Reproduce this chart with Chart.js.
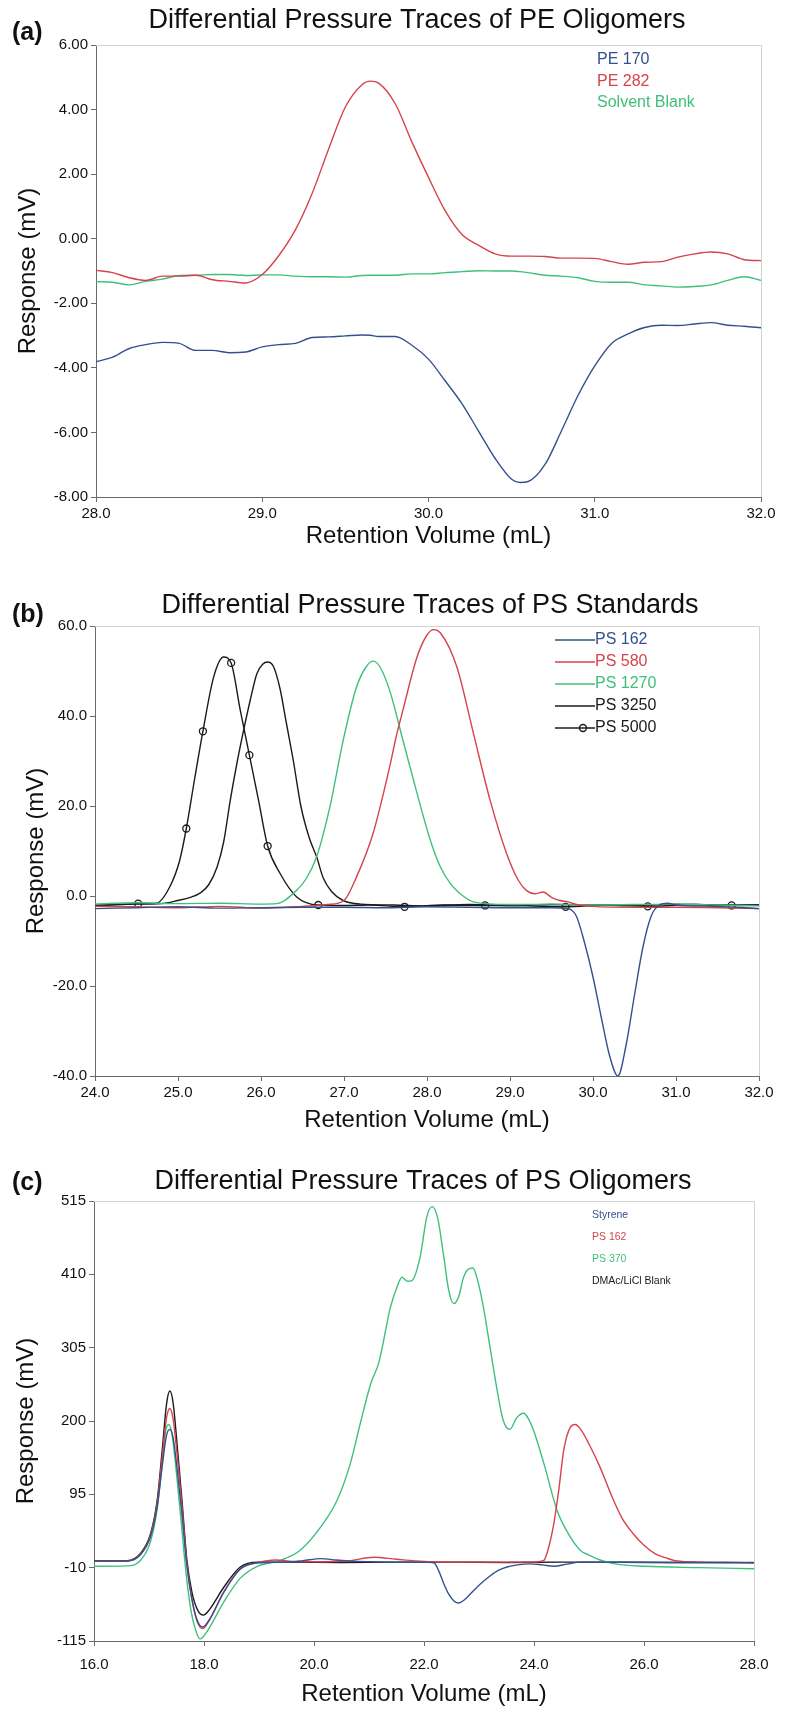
<!DOCTYPE html>
<html>
<head>
<meta charset="utf-8">
<script src="https://cdn.jsdelivr.net/npm/chart.js@4.4.1/dist/chart.umd.min.js"></script>
<style>
body { margin: 0; background: #fff; }
canvas { display: block; }
</style>
</head>
<body>
<canvas id="chartA" width="793" height="560"></canvas>
<canvas id="chartB" width="793" height="585"></canvas>
<canvas id="chartC" width="793" height="567"></canvas>
<script>
// ---- panel (a): PE oligomers ----
const peX = [28.0, 28.1, 28.2, 28.3, 28.4, 28.5, 28.6, 28.7, 28.8, 28.9,
             29.0, 29.1, 29.2, 29.3, 29.4, 29.5, 29.6, 29.65, 29.7, 29.8, 29.9,
             30.0, 30.1, 30.2, 30.3, 30.4, 30.5, 30.55, 30.6, 30.7, 30.8, 30.9,
             31.0, 31.1, 31.2, 31.3, 31.4, 31.5, 31.6, 31.7, 31.8, 31.9, 32.0];
const pe170 = [-3.81, -3.67, -3.40, -3.28, -3.21, -3.24, -3.46, -3.46, -3.53, -3.51,
               -3.35, -3.28, -3.24, -3.06, -3.04, -3.01, -2.98, -2.99, -3.03, -3.03, -3.30,
               -3.73, -4.40, -5.10, -5.95, -6.80, -7.45, -7.55, -7.52, -7.00, -5.95, -4.85,
               -3.94, -3.25, -2.95, -2.75, -2.68, -2.69, -2.64, -2.60, -2.68, -2.71, -2.76];
const pe282 = [-0.98, -1.05, -1.21, -1.29, -1.16, -1.16, -1.13, -1.27, -1.32, -1.37,
               -1.11, -0.52, 0.28, 1.40, 2.79, 4.08, 4.77, 4.88, 4.82, 4.18, 3.00,
               1.90, 0.87, 0.14, -0.20, -0.47, -0.54, -0.54, -0.54, -0.55, -0.60, -0.60,
               -0.61, -0.71, -0.79, -0.73, -0.71, -0.57, -0.47, -0.41, -0.47, -0.65, -0.68];
const peBlank = [-1.33, -1.35, -1.43, -1.32, -1.25, -1.14, -1.13, -1.11, -1.11, -1.14,
                 -1.12, -1.12, -1.16, -1.18, -1.18, -1.19, -1.14, -1.13, -1.13, -1.13, -1.09,
                 -1.09, -1.05, -1.02, -0.99, -1.00, -1.00, -1.02, -1.05, -1.13, -1.16, -1.21,
                 -1.32, -1.35, -1.35, -1.43, -1.46, -1.50, -1.48, -1.43, -1.29, -1.18, -1.29];

// ---- panel (b): PS standards ----
const ps162X = [24.0, 24.5, 25.0, 25.5, 26.0, 26.5, 27.0, 27.5, 28.0, 28.5, 29.0, 29.5, 29.7,
                29.8, 29.9, 30.0, 30.1, 30.2, 30.3, 30.4, 30.5, 30.6, 30.7, 30.8, 30.9, 31.0, 31.5, 32.0];
const ps162Y = [-2.8, -2.6, -2.4, -2.7, -2.6, -2.5, -2.5, -2.6, -2.4, -2.5, -2.6, -2.6, -2.8,
                -4.5, -10.5, -18, -27, -35.5, -40, -33, -22, -11.5, -4.5, -2.0, -1.6, -2.0, -2.3, -2.8];
const ps580X = [24.0, 24.5, 25.0, 25.5, 26.0, 26.5, 26.8, 27.0, 27.15, 27.35, 27.55, 27.63, 27.71,
                27.88, 28.0, 28.08, 28.16, 28.36, 28.56, 28.76, 28.96, 29.1, 29.2, 29.3, 29.4, 29.5,
                29.6, 29.7, 29.8, 30.0, 30.5, 31.0, 31.5, 32.0];
const ps580Y = [-2.3, -2.4, -2.6, -2.3, -2.7, -2.3, -1.9, -1.0, 4.2, 13.9, 28.7, 35.5, 41.3,
                53.1, 58.0, 59.2, 58.5, 50.9, 36.1, 21.3, 9.4, 3.5, 1.2, 0.5, 0.9, -0.3,
                -1.0, -1.3, -1.9, -2.3, -2.5, -2.5, -2.6, -2.8];
const ps1270X = [24.0, 24.5, 25.0, 25.5, 26.0, 26.19, 26.43, 26.55, 26.67, 26.83, 26.99, 27.15,
                 27.27, 27.35, 27.43, 27.55, 27.71, 27.88, 28.04, 28.16, 28.28, 28.4, 28.56,
                 29.0, 29.5, 30.0, 30.5, 31.0, 31.5, 32.0];
const ps1270Y = [-1.8, -1.5, -1.7, -1.6, -1.8, -1.7, 1.3, 4.0, 8.7, 19.8, 34.6, 46.4,
                 51.0, 52.2, 51.0, 45.7, 34.6, 22.8, 12.4, 6.5, 2.8, 0.5, -1.3,
                 -1.9, -1.8, -2.0, -1.9, -1.8, -2.0, -2.2];
const ps3250X = [24.0, 24.5, 24.8, 25.0, 25.15, 25.27, 25.37, 25.47, 25.55, 25.63, 25.71, 25.79,
                 25.87, 25.95, 26.02, 26.08, 26.15, 26.23, 26.3, 26.39, 26.48, 26.58, 26.67,
                 26.75, 26.85, 26.99, 27.2, 27.6, 28.0, 28.5, 29.0, 29.5, 30.0, 30.5, 31.0, 31.5, 32.0];
const ps3250Y = [-2.0, -1.8, -1.7, -1.0, -0.3, 0.7, 2.5, 6.4, 12.0, 21.3, 29.5, 36.8,
                 43.5, 49.4, 51.5, 52.0, 51.0, 46.0, 39.0, 30.0, 20.0, 13.0, 8.7,
                 4.0, 1.0, -1.0, -1.8, -2.0, -2.2, -1.9, -2.1, -1.9, -2.0, -2.1, -1.8, -2.0, -2.0];
const ps5000X = [24.0, 24.3, 24.52, 24.74, 24.9, 25.02, 25.1, 25.2, 25.3, 25.43, 25.55, 25.64,
                 25.75, 25.86, 25.97, 26.08, 26.23, 26.43, 26.69, 27.0, 27.3, 27.73, 28.2, 28.7,
                 29.2, 29.67, 30.2, 30.66, 31.2, 31.67, 32.0];
const ps5000Y = [-2.2, -1.9, -1.7, -1.6, 2.0, 7.9, 15.0, 26.0, 36.6, 48.7, 53.1, 51.8,
                 41.3, 31.3, 21.3, 11.1, 5.0, -0.2, -2.0, -2.1, -2.0, -2.4, -2.0, -2.1,
                 -2.2, -2.4, -2.0, -2.3, -1.9, -2.1, -2.0];
const ps5000Marks = [24.52, 25.1, 25.3, 25.64, 25.86, 26.08, 26.69, 27.73, 28.7, 29.67, 30.66, 31.67];

// ---- panel (c): PS oligomers ----
const styX = [16.0, 16.6, 16.84, 17.03, 17.15, 17.24, 17.32, 17.38, 17.44, 17.52, 17.6, 17.69,
              17.78, 17.88, 17.98, 18.1, 18.36, 18.66, 18.97, 19.5, 19.8, 20.12, 20.4, 20.8,
              21.5, 22.0, 22.18, 22.27, 22.36, 22.45, 22.55, 22.63, 22.72, 22.85, 23.03, 23.2,
              23.35, 23.51, 23.7, 23.93, 24.15, 24.36, 24.6, 24.84, 25.2, 26.0, 27.0, 28.0];
const styY = [-0.5, -0.5, 8, 35, 78, 135, 180, 188, 175, 125, 66, -8,
              -55, -86, -95, -84, -45, -12, -3, -2, 0, 3, 1, -1,
              -2, -2, -3, -15, -33, -48, -58, -60.5, -57, -47, -33, -22,
              -14, -9, -6, -4.5, -6, -8, -5, -2, -2, -2.5, -2.5, -2.5];
const o162X = [16.0, 16.6, 16.84, 17.03, 17.15, 17.24, 17.32, 17.38, 17.44, 17.52, 17.6, 17.69,
               17.78, 17.88, 17.98, 18.1, 18.36, 18.66, 18.97, 19.3, 19.6, 20.0, 20.6, 21.09,
               21.5, 22.0, 23.0, 24.0, 24.1, 24.18, 24.27, 24.36, 24.45, 24.54, 24.66, 24.75,
               24.85, 25.0, 25.2, 25.4, 25.6, 25.8, 26.0, 26.2, 26.4, 26.6, 27.0, 28.0];
const o162Y = [-1, -0.5, 9, 37, 83, 148, 205, 218, 202, 145, 78, -5,
               -55, -88, -97, -85, -45, -12, -3, 1, -1, -1.5, -0.5, 5,
               2, -1, -2, -2, -1, 0.5, 20, 53, 101, 158, 191, 195,
               188, 167, 134, 95, 61, 39, 22, 10, 4, -0.5, -2, -3];
const o370X = [16.0, 16.6, 16.84, 17.03, 17.15, 17.24, 17.3, 17.36, 17.42, 17.5, 17.58, 17.67,
               17.76, 17.85, 17.93, 18.05, 18.36, 18.66, 18.97, 19.27, 19.39, 19.75, 20.12, 20.42,
               20.66, 20.84, 21.03, 21.18, 21.39, 21.51, 21.6, 21.7, 21.78, 21.93, 22.05, 22.15,
               22.25, 22.36, 22.45, 22.54, 22.63, 22.72, 22.8, 22.89, 22.98, 23.08, 23.21, 23.33,
               23.44, 23.56, 23.68, 23.81, 23.9, 23.99, 24.18, 24.42, 24.66, 24.84, 25.0, 25.2,
               25.5, 26.0, 27.0, 28.0];
const o370Y = [-8, -7.5, 0, 28, 75, 140, 185, 195, 180, 125, 60, -15,
               -70, -100, -112, -102, -59, -25, -8, -2, 0.5, 15, 48, 86.5,
               139, 196, 253, 284, 363, 392, 406, 400, 401, 435, 492, 507,
               490, 435, 387, 368, 378, 406, 417, 419, 400, 363, 301, 244,
               201, 188, 204, 211, 203, 187, 139, 72, 34, 15, 8, 1,
               -5, -8, -10, -11.5];
const blankX = [16.0, 16.6, 16.84, 17.03, 17.15, 17.24, 17.32, 17.38, 17.44, 17.52, 17.6, 17.69,
                17.78, 17.88, 17.99, 18.1, 18.36, 18.66, 18.97, 19.5, 20.5, 21.5, 22.5, 23.5,
                24.5, 25.5, 26.5, 27.5, 28.0];
const blankY = [-0.5, 0, 10, 39, 87, 158, 225, 243, 225, 158, 86, 0,
                -45, -70, -78, -70, -38, -9, -2, -2, -2.5, -2, -2, -2.5,
                -2, -2, -2.5, -2.5, -3];

const FONT = '"Liberation Sans", Arial, sans-serif';
const BLUE = '#34508f';
const RED = '#d5434c';
const GREEN = '#3ec07c';
const BLACK = '#1b1b1b';

function pts(xs, ys) {
    return xs.map((x, i) => ({ x: x, y: ys[i] }));
}

function line(label, xs, ys, color) {
    return {
        label: label,
        data: pts(xs, ys),
        borderColor: color,
        backgroundColor: color,
        borderWidth: 1.4,
        pointRadius: 0,
        cubicInterpolationMode: 'monotone',
        fill: false
    };
}

// frame, title, panel tag and the text legend
const decor = {
    id: 'decor',
    afterDraw(chart, args, o) {
        const ctx = chart.ctx;
        const a = chart.chartArea;
        ctx.save();
        ctx.strokeStyle = '#d2d2d2';
        ctx.lineWidth = 1;
        ctx.beginPath();
        ctx.moveTo(a.left, a.top + 0.5);
        ctx.lineTo(a.right + 0.5, a.top + 0.5);
        ctx.lineTo(a.right + 0.5, a.bottom);
        ctx.stroke();

        ctx.fillStyle = '#111';
        ctx.textBaseline = 'middle';
        ctx.textAlign = 'center';
        ctx.font = '27px ' + FONT;
        ctx.fillText(o.title, o.titleX, o.titleY);
        ctx.textAlign = 'left';
        ctx.font = 'bold 25px ' + FONT;
        ctx.fillText(o.tag, 12, o.tagY);

        ctx.font = o.legendFont + 'px ' + FONT;
        chart.data.datasets.forEach((ds, i) => {
            const y = o.legendY + i * o.legendGap;
            if (o.legendLine) {
                ctx.strokeStyle = ds.borderColor;
                ctx.lineWidth = 1.4;
                ctx.beginPath();
                ctx.moveTo(o.legendX - 40, y);
                ctx.lineTo(o.legendX, y);
                ctx.stroke();
                if (ds.marks) {
                    ctx.beginPath();
                    ctx.arc(o.legendX - 12, y, 3.5, 0, Math.PI * 2);
                    ctx.stroke();
                }
            }
            ctx.fillStyle = ds.borderColor;
            ctx.fillText(ds.label, o.legendX, y);
        });
        ctx.restore();
    }
};

function makeChart(id, datasets, cfg) {
    const axisColor = '#6a6a6a';
    return new Chart(document.getElementById(id), {
        type: 'line',
        data: { datasets: datasets },
        plugins: [decor],
        options: {
            responsive: false,
            animation: false,
            layout: { padding: { top: cfg.padTop, right: cfg.padRight, bottom: cfg.padBottom, left: 0 } },
            plugins: {
                legend: { display: false },
                tooltip: { enabled: false },
                decor: cfg.decor
            },
            scales: {
                x: {
                    type: 'linear',
                    min: cfg.xMin, max: cfg.xMax,
                    afterFit: s => { s.height = cfg.xAxisH; },
                    ticks: {
                        stepSize: cfg.xStep,
                        padding: cfg.xTickPad,
                        color: '#111',
                        font: { family: FONT, size: 15 },
                        maxRotation: 0,
                        callback: v => v.toFixed(1)
                    },
                    grid: { drawOnChartArea: false, drawTicks: true, tickLength: 5, color: axisColor },
                    border: { color: axisColor, width: 1 },
                    title: {
                        display: true,
                        text: 'Retention Volume (mL)',
                        color: '#111',
                        font: { family: FONT, size: 24 },
                        padding: { top: 0, bottom: cfg.xTitlePad }
                    }
                },
                y: {
                    min: cfg.yMin, max: cfg.yMax,
                    afterFit: s => { s.width = cfg.yAxisW; },
                    ticks: {
                        stepSize: cfg.yStep,
                        padding: 3,
                        color: '#111',
                        font: { family: FONT, size: 15 },
                        callback: cfg.yFmt
                    },
                    grid: { drawOnChartArea: false, drawTicks: true, tickLength: 5, color: axisColor },
                    border: { color: axisColor, width: 1 },
                    title: {
                        display: true,
                        text: 'Response (mV)',
                        color: '#111',
                        font: { family: FONT, size: 24 },
                        padding: { top: cfg.yTitlePad, bottom: 0 }
                    }
                }
            }
        }
    });
}

makeChart('chartA', [
    line('PE 170', peX, pe170, BLUE),
    line('PE 282', peX, pe282, RED),
    line('Solvent Blank', peX, peBlank, GREEN)
], {
    padTop: 45, padRight: 32, padBottom: 5,
    xMin: 28, xMax: 32, xStep: 1, xAxisH: 58, xTickPad: 3, xTitlePad: 4,
    yMin: -8, yMax: 6, yStep: 2, yAxisW: 96, yTitlePad: 14,
    yFmt: v => v.toFixed(2),
    decor: {
        title: 'Differential Pressure Traces of PE Oligomers', titleX: 417, titleY: 21,
        tag: '(a)', tagY: 33,
        legendX: 597, legendY: 60, legendGap: 21.5, legendFont: 16, legendLine: false
    }
});

const ps5000Set = line('PS 5000', ps5000X, ps5000Y, BLACK);
ps5000Set.marks = ps5000Marks;
ps5000Set.pointRadius = c => (c.raw && ps5000Marks.includes(c.raw.x)) ? 3.5 : 0;
ps5000Set.pointBackgroundColor = 'rgba(255,255,255,0)';
ps5000Set.pointBorderColor = BLACK;
ps5000Set.pointBorderWidth = 1.3;

makeChart('chartB', [
    line('PS 162', ps162X, ps162Y, BLUE),
    line('PS 580', ps580X, ps580Y, RED),
    line('PS 1270', ps1270X, ps1270Y, GREEN),
    line('PS 3250', ps3250X, ps3250Y, BLACK),
    ps5000Set
], {
    padTop: 66, padRight: 34, padBottom: 6,
    xMin: 24, xMax: 32, xStep: 1, xAxisH: 63, xTickPad: 3, xTitlePad: 4,
    yMin: -40, yMax: 60, yStep: 20, yAxisW: 95, yTitlePad: 22,
    yFmt: v => v.toFixed(1),
    decor: {
        title: 'Differential Pressure Traces of PS Standards', titleX: 430, titleY: 46,
        tag: '(b)', tagY: 55,
        legendX: 595, legendY: 80, legendGap: 22, legendFont: 16, legendLine: true
    }
});

makeChart('chartC', [
    line('Styrene', styX, styY, BLUE),
    line('PS 162', o162X, o162Y, RED),
    line('PS 370', o370X, o370Y, GREEN),
    line('DMAc/LiCl Blank', blankX, blankY, BLACK)
], {
    padTop: 56, padRight: 39, padBottom: 1,
    xMin: 16, xMax: 28, xStep: 2, xAxisH: 70, xTickPad: 10, xTitlePad: 2,
    yMin: -115, yMax: 515, yStep: 105, yAxisW: 94, yTitlePad: 12,
    yFmt: v => String(Math.round(v)),
    decor: {
        title: 'Differential Pressure Traces of PS Oligomers', titleX: 423, titleY: 37,
        tag: '(c)', tagY: 38,
        legendX: 592, legendY: 70, legendGap: 22, legendFont: 10.5, legendLine: false
    }
});
</script>
</body>
</html>
